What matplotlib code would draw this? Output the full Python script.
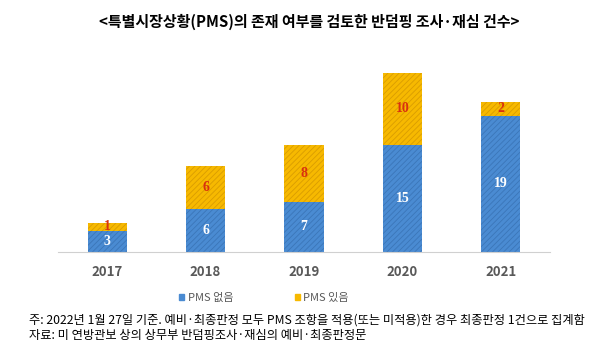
import numpy as np
import matplotlib.pyplot as plt
from matplotlib.patches import Patch

plt.rcParams['font.family'] = ['Noto Sans CJK KR', 'DejaVu Sans']
plt.rcParams['hatch.linewidth'] = 0.6

years = ["2017", "2018", "2019", "2020", "2021"]
no_pms = [3, 6, 7, 15, 19]
with_pms = [1, 6, 8, 10, 2]
series_names = ["PMS 없음", "PMS 있음"]
title = "<특별시장상황(PMS)의 존재 여부를 검토한 반덤핑 조사·재심 건수>"
notes = ["주: 2022년 1월 27일 기준. 예비·최종판정 모두 PMS 조항을 적용(또는 미적용)한 경우 최종판정 1건으로 집계함",
         "자료: 미 연방관보 상의 상무부 반덤핑조사·재심의 예비·최종판정문"]

blue, blue_h = "#4a8bd2", "#3b76b8"
gold, gold_h = "#f7b900", "#d99c00"

fig = plt.figure(figsize=(6.08, 3.48), dpi=100)
ax = fig.add_axes([58/608, 1-252/348, 492/608, 179/348])
x = np.arange(len(years))
w = 0.4
ax.bar(x, no_pms, w, color=blue, edgecolor=blue_h, hatch="//////", linewidth=0)
ax.bar(x, with_pms, w, bottom=no_pms, color=gold, edgecolor=gold_h, hatch="//////", linewidth=0)

for i in range(len(years)):
    ax.text(x[i], no_pms[i]/2, str(no_pms[i]), ha="center", va="center", color="white",
            fontsize=10, fontweight="bold", family="Liberation Serif")
    ax.text(x[i], no_pms[i] + with_pms[i]/2, str(with_pms[i]), ha="center", va="center",
            color="#d9300f", fontsize=10, fontweight="bold", family="Liberation Serif")

ax.set_xlim(-0.5, 4.5)
ax.set_ylim(0, 25)
ax.set_yticks([])
ax.set_xticks(x)
ax.set_xticklabels(years, fontsize=9.5, fontweight="bold", color="#595959")
ax.tick_params(axis="x", length=0, pad=9)
for s in ["top", "right", "left"]:
    ax.spines[s].set_visible(False)
ax.spines["bottom"].set_color("#d0d0d0")

fig.text(0.508, 1-22/348, title, ha="center", va="center", fontsize=10.8, fontweight="bold")

handles = [Patch(color=blue), Patch(color=gold)]
leg = fig.legend(handles, series_names, loc="center", bbox_to_anchor=(264/608, 1-298/348),
                 ncol=2, frameon=False, fontsize=8, handlelength=0.5, handleheight=0.5,
                 handletextpad=0.3, columnspacing=5.5)
for t in leg.get_texts():
    t.set_color("#595959")

fig.text(29/608, 1-320/348, notes[0], ha="left", va="center", fontsize=8.8)
fig.text(29/608, 1-335/348, notes[1], ha="left", va="center", fontsize=8.8)

fig.savefig("out.png", dpi=100)
